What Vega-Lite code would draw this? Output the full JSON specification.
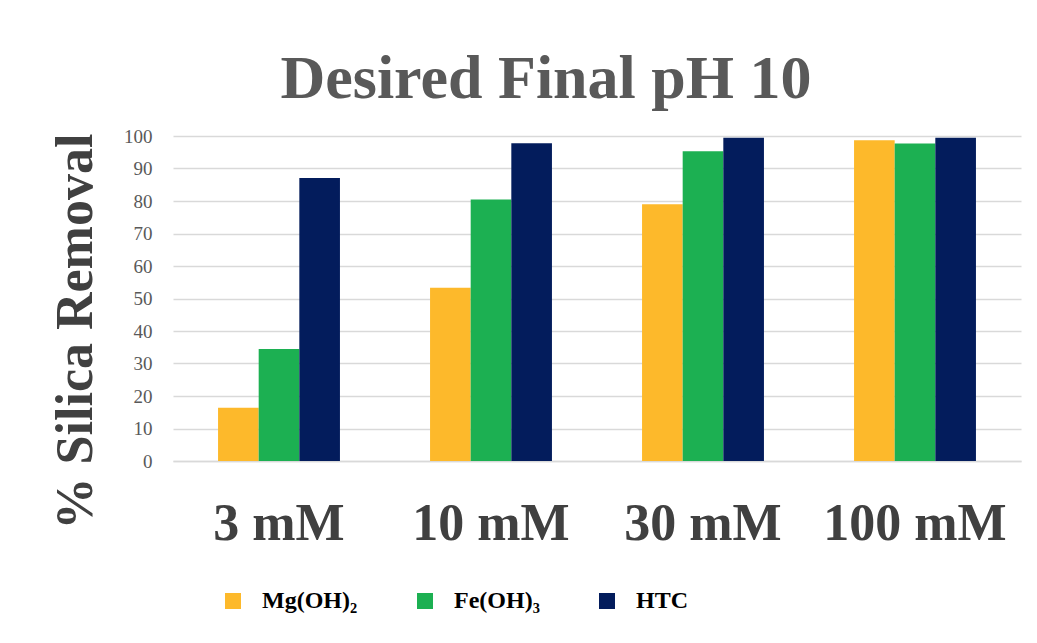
{
  "$schema": "https://vega.github.io/schema/vega-lite/v6.json",
  "width": 848,
  "height": 325,
  "autosize": {"type": "none"},
  "padding": {"left": 173, "top": 136, "right": 16, "bottom": 182},
  "background": "white",
  "title": {
    "text": "Desired Final pH 10",
    "font": "Liberation Serif",
    "fontSize": 62,
    "fontWeight": "bold",
    "color": "#595959",
    "anchor": "middle",
    "frame": "group",
    "baseline": "alphabetic",
    "offset": 39,
    "dx": -51,
    "dy": 72
  },
  "data": {
    "values": [
      {"conc": "3 mM", "reagent": "Mg(OH)₂", "removal": 16.4},
      {"conc": "3 mM", "reagent": "Fe(OH)₃", "removal": 34.5},
      {"conc": "3 mM", "reagent": "HTC", "removal": 87.1},
      {"conc": "10 mM", "reagent": "Mg(OH)₂", "removal": 53.3},
      {"conc": "10 mM", "reagent": "Fe(OH)₃", "removal": 80.5},
      {"conc": "10 mM", "reagent": "HTC", "removal": 97.8},
      {"conc": "30 mM", "reagent": "Mg(OH)₂", "removal": 79.0},
      {"conc": "30 mM", "reagent": "Fe(OH)₃", "removal": 95.3},
      {"conc": "30 mM", "reagent": "HTC", "removal": 99.5},
      {"conc": "100 mM", "reagent": "Mg(OH)₂", "removal": 98.7},
      {"conc": "100 mM", "reagent": "Fe(OH)₃", "removal": 97.7},
      {"conc": "100 mM", "reagent": "HTC", "removal": 99.5}
    ]
  },
  "mark": {"type": "bar"},
  "encoding": {
    "x": {
      "field": "conc",
      "type": "nominal",
      "sort": ["3 mM", "10 mM", "30 mM", "100 mM"],
      "scale": {"paddingInner": 0.425, "paddingOuter": 0.2125},
      "axis": {
        "title": null,
        "labelAngle": 0,
        "labelFont": "Liberation Serif",
        "labelFontSize": 52,
        "labelFontWeight": "bold",
        "labelColor": "#404040",
        "labelPadding": 37,
        "labelLimit": 0,
        "ticks": false,
        "tickSize": 0,
        "domain": true,
        "domainColor": "#d9d9d9",
        "domainWidth": 1.5
      }
    },
    "xOffset": {
      "field": "reagent",
      "type": "nominal",
      "sort": ["Mg(OH)₂", "Fe(OH)₃", "HTC"],
      "scale": {"paddingInner": 0, "paddingOuter": 0}
    },
    "y": {
      "field": "removal",
      "type": "quantitative",
      "scale": {"domain": [0, 100], "nice": false},
      "axis": {
        "title": "% Silica Removal",
        "titleFont": "Liberation Serif",
        "titleFontSize": 52,
        "titleFontWeight": "bold",
        "titleColor": "#404040",
        "titleAngle": -90,
        "titleAlign": "center",
        "titleBaseline": "middle",
        "titleX": -98,
        "titleY": 195,
        "values": [0, 10, 20, 30, 40, 50, 60, 70, 80, 90, 100],
        "labelFont": "Liberation Serif",
        "labelFontSize": 19,
        "labelColor": "#595959",
        "labelPadding": 21,
        "ticks": false,
        "tickSize": 0,
        "domain": false,
        "grid": true,
        "gridColor": "#d9d9d9",
        "gridWidth": 1.5
      }
    },
    "color": {
      "field": "reagent",
      "type": "nominal",
      "scale": {
        "domain": ["Mg(OH)₂", "Fe(OH)₃", "HTC"],
        "range": ["#FDB92B", "#1CB052", "#031C5C"]
      },
      "legend": {
        "title": null,
        "orient": "none",
        "direction": "horizontal",
        "columns": 3,
        "legendX": 48,
        "legendY": 453,
        "symbolType": "square",
        "symbolSize": 256,
        "symbolStrokeWidth": 0,
        "labelFont": "Liberation Serif",
        "labelFontSize": 24,
        "labelFontWeight": "bold",
        "labelColor": "#000000",
        "labelOffset": 17,
        "columnPadding": 55
      }
    }
  },
  "config": {
    "view": {"stroke": null}
  }
}
